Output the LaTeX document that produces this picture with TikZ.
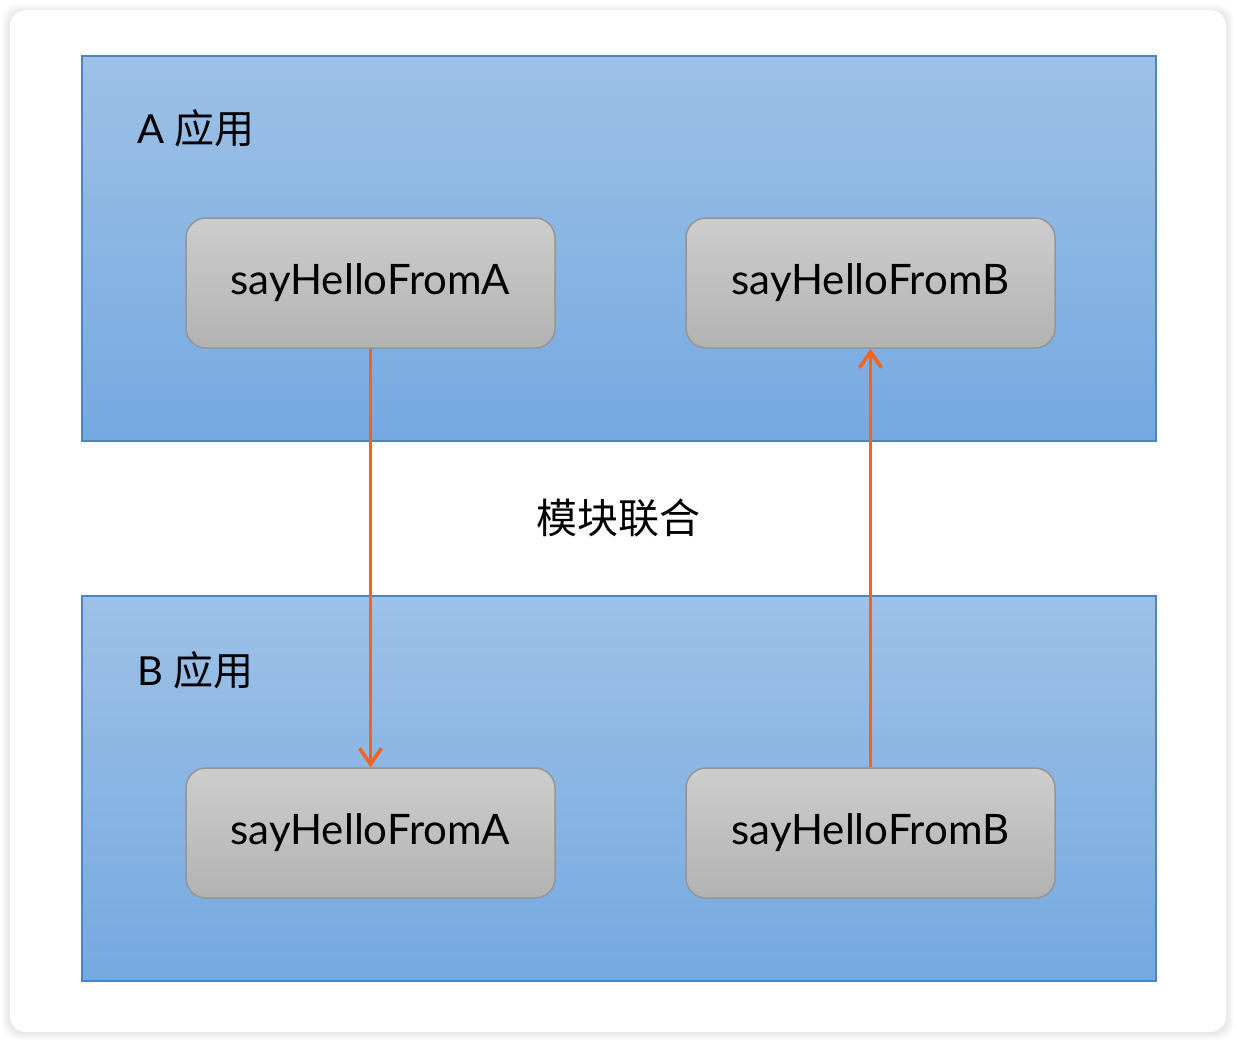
\documentclass[tikz,border=0pt]{standalone}
\usepackage{fontspec}
\setmainfont{Lato}
\newfontfamily\cjk{Noto Sans CJK SC}
\usetikzlibrary{arrows.meta}
\definecolor{appedge}{HTML}{4A86C6}
\definecolor{apptop}{HTML}{9DC1E7}
\definecolor{appbot}{HTML}{75A9E0}
\definecolor{fntop}{HTML}{CDCDCD}
\definecolor{fnbot}{HTML}{B2B2B2}
\definecolor{fnedge}{HTML}{959595}
\definecolor{linkline}{HTML}{F2641E}
\tikzset{
  appbox/.style={draw=appedge, line width=1.5pt, top color=apptop, bottom color=appbot, minimum width=1074pt, minimum height=385pt, inner sep=0pt},
  fnbox/.style={draw=fnedge, line width=1.5pt, rounded corners=20pt, top color=fntop, bottom color=fnbot, minimum width=369pt, minimum height=130pt, inner sep=0pt, font=\fontsize{42}{50}\selectfont},
  applabel/.style={anchor=west, inner sep=0pt, font=\fontsize{40}{48}\selectfont},
  linkarrow/.style={draw=linkline, line width=3.5pt, -{Straight Barb[length=16pt, width=22pt, line width=3.5pt]}}
}
\begin{document}
\begin{tikzpicture}[x=1pt, y=-1pt]
\useasboundingbox (0,0) rectangle (1236,1042);
\foreach \i in {1,...,8} \fill[black, opacity=0.012, rounded corners=16pt] (10-\i,10-\i+2) rectangle (1226+\i,1032+\i);
\fill[white, rounded corners=16pt] (10,10) rectangle (1226,1032);
\node[appbox] (appA) at (619, 248.5) {};
\node[appbox] (appB) at (619, 788.5) {};
\node[applabel] (labelA) at (137, 128) {A {\cjk 应用}};
\node[applabel] (labelB) at (137, 670) {B {\cjk 应用}};
\node[fnbox] (fnAA) at (370.5, 283) {sayHelloFromA};
\node[fnbox] (fnAB) at (870.5, 283) {sayHelloFromB};
\node[fnbox] (fnBA) at (370.5, 833) {sayHelloFromA};
\node[fnbox] (fnBB) at (870.5, 833) {sayHelloFromB};
\node[inner sep=0pt, font=\fontsize{41}{48}\selectfont\cjk] (fed) at (618, 518) {模块联合};
\draw[linkarrow] (fnAA.south) -- (fnBA.north);
\draw[linkarrow] (fnBB.north) -- (fnAB.south);
\end{tikzpicture}
\end{document}
